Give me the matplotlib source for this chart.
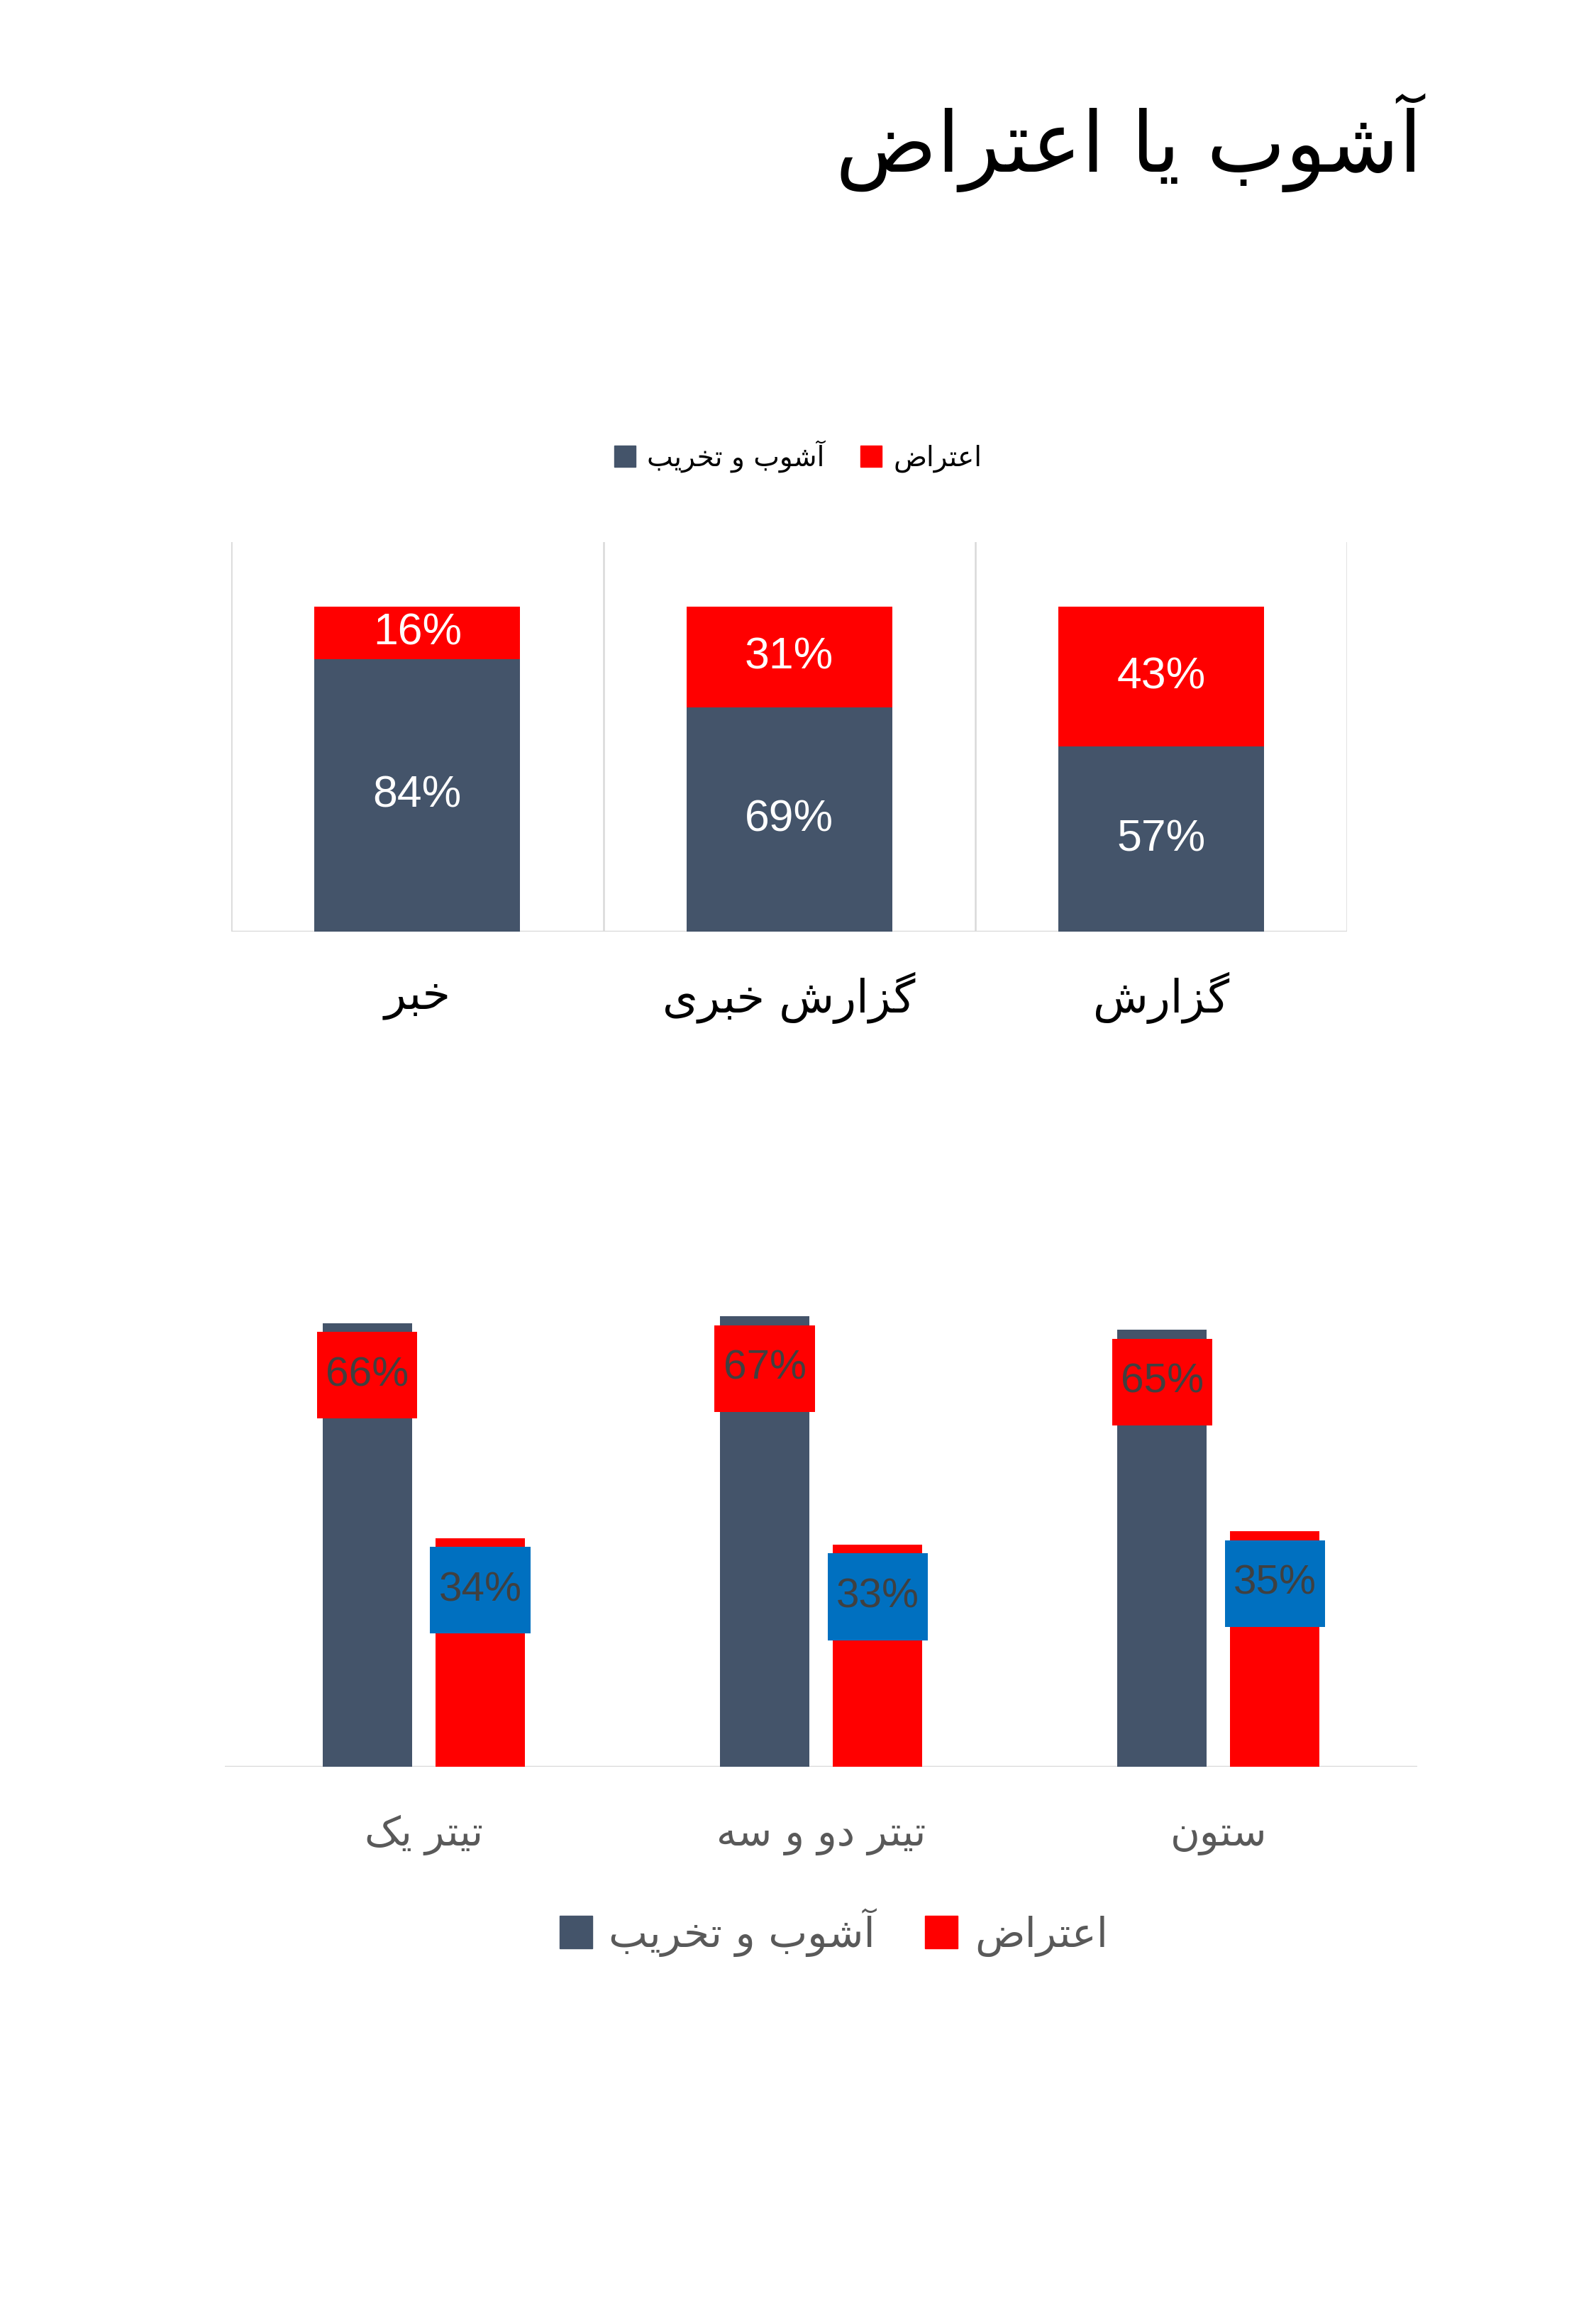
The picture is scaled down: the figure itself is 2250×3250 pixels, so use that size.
import matplotlib
matplotlib.use('Agg')
import matplotlib.pyplot as plt
from matplotlib.patches import Rectangle
from matplotlib.lines import Line2D

# ---- data ----
title = 'آشوب یا اعتراض'
series_names = ['آشوب و تخریب', 'اعتراض']

top_categories = ['خبر', 'گزارش خبری', 'گزارش']
top_riot = [0.84, 0.69, 0.57]
top_protest = [0.16, 0.31, 0.43]

bottom_categories = ['تیتر یک', 'تیتر دو و سه', 'ستون']
bottom_riot = [0.66, 0.67, 0.65]
bottom_protest = [0.34, 0.33, 0.35]

GREY = '#44546A'
RED = '#FF0000'
BLUE = '#0070C0'
LINE = '#D9D9D9'

ARABIC_FONT = ['DejaVu Sans']
NUM_FONT = ['Liberation Sans', 'DejaVu Sans']

# matplotlib has no Arabic shaping, so map letters to presentation forms
FORMS = {
    'ا': ('\uFE8D', '\uFE8E', None, None),
    'آ': ('\uFE81', '\uFE82', None, None),
    'ب': ('\uFE8F', '\uFE90', '\uFE91', '\uFE92'),
    'ت': ('\uFE95', '\uFE96', '\uFE97', '\uFE98'),
    'خ': ('\uFEA5', '\uFEA6', '\uFEA7', '\uFEA8'),
    'د': ('\uFEA9', '\uFEAA', None, None),
    'ر': ('\uFEAD', '\uFEAE', None, None),
    'ز': ('\uFEAF', '\uFEB0', None, None),
    'س': ('\uFEB1', '\uFEB2', '\uFEB3', '\uFEB4'),
    'ش': ('\uFEB5', '\uFEB6', '\uFEB7', '\uFEB8'),
    'ض': ('\uFEBD', '\uFEBE', '\uFEBF', '\uFEC0'),
    'ع': ('\uFEC9', '\uFECA', '\uFECB', '\uFECC'),
    'ن': ('\uFEE5', '\uFEE6', '\uFEE7', '\uFEE8'),
    'ه': ('\uFEE9', '\uFEEA', '\uFEEB', '\uFEEC'),
    'و': ('\uFEED', '\uFEEE', None, None),
    'ک': ('\uFB8E', '\uFB8F', '\uFB90', '\uFB91'),
    'گ': ('\uFB92', '\uFB93', '\uFB94', '\uFB95'),
    'ی': ('\uFBFC', '\uFBFD', '\uFBFE', '\uFBFF'),
}
RIGHT_ONLY = set('اآدرزو')


def fa(s):
    out = []
    for i, c in enumerate(s):
        if c not in FORMS:
            out.append(c)
            continue
        prev = s[i - 1] if i > 0 else None
        nxt = s[i + 1] if i + 1 < len(s) else None
        jp = prev in FORMS and prev not in RIGHT_ONLY
        jn = nxt in FORMS and c not in RIGHT_ONLY
        iso, fin, ini, med = FORMS[c]
        if jp and jn:
            out.append(med)
        elif jp:
            out.append(fin)
        elif jn:
            out.append(ini)
        else:
            out.append(iso)
    return ''.join(reversed(out))


fig = plt.figure(figsize=(22.5, 32.5), dpi=100)
fig.patch.set_facecolor('white')

fig.text(0.891, 0.938, fa(title), ha='right', va='center', fontsize=85,
         family=ARABIC_FONT, color='black')

# ---- top chart: 100% stacked ----
ax1 = fig.add_axes([0.145, 0.596, 0.699, 0.169])
x1 = range(len(top_categories))
ax1.bar(x1, top_riot, width=0.553, color=GREY, zorder=3)
ax1.bar(x1, top_protest, width=0.553, bottom=top_riot, color=RED, zorder=3)
ax1.set_xlim(-0.5, 2.5)
ax1.set_ylim(0, 1.2)
for xv in [-0.5, 0.5, 1.5, 2.5]:
    ax1.axvline(xv, color=LINE, lw=1.8, zorder=1)
ax1.axhline(0, color=LINE, lw=2.5, zorder=2)
for sp in ax1.spines.values():
    sp.set_visible(False)
ax1.set_xticks([])
ax1.set_yticks([])
for i in x1:
    ax1.text(i, top_riot[i] / 2, f'{round(top_riot[i] * 100)}%', ha='center', va='center',
             color='white', fontsize=45, family=NUM_FONT, zorder=4)
    ax1.text(i, top_riot[i] + top_protest[i] / 2, f'{round(top_protest[i] * 100)}%',
             ha='center', va='center', color='white', fontsize=45, family=NUM_FONT, zorder=4)
    ax1.annotate(fa(top_categories[i]), xy=(i, 0), xycoords=('data', 'axes fraction'),
                 xytext=(0, -67), textcoords='offset points', ha='center', va='center',
                 fontsize=46, family=ARABIC_FONT, color='black', annotation_clip=False)

h1 = [Line2D([], [], ls='', marker='s', markersize=22, color=c) for c in (GREY, RED)]
fig.legend(h1, [fa(n) for n in series_names], loc='center', bbox_to_anchor=(0.499, 0.802),
           ncol=2, frameon=False, prop={'family': ARABIC_FONT, 'size': 28},
           handletextpad=0.3, columnspacing=1.2, handlelength=1.0)

# ---- bottom chart: clustered ----
ax2 = fig.add_axes([0.141, 0.234, 0.747, 0.233])
w = 0.225
off = 0.142
box_w = 0.252
box_h = 0.129
box_gap = 0.013
for i in range(len(bottom_categories)):
    for xc, v, col, boxcol in [(i - off, bottom_riot[i], GREY, RED),
                               (i + off, bottom_protest[i], RED, BLUE)]:
        ax2.bar(xc, v, width=w, color=col, zorder=3)
        ax2.add_patch(Rectangle((xc - box_w / 2, v - box_gap - box_h), box_w, box_h,
                                facecolor=boxcol, edgecolor='none', zorder=4))
        ax2.text(xc, v - box_gap - box_h / 2, f'{round(v * 100)}%', ha='center', va='center',
                 color='#404040', fontsize=42, family=NUM_FONT, zorder=5)
    ax2.annotate(fa(bottom_categories[i]), xy=(i, 0), xycoords=('data', 'axes fraction'),
                 xytext=(0, -70), textcoords='offset points', ha='center', va='center',
                 fontsize=41, family=ARABIC_FONT, color='#595959', annotation_clip=False)
ax2.set_xlim(-0.5, 2.5)
ax2.set_ylim(0, 0.8)
ax2.axhline(0, color=LINE, lw=2.5, zorder=2)
for sp in ax2.spines.values():
    sp.set_visible(False)
ax2.set_xticks([])
ax2.set_yticks([])

h2 = [Line2D([], [], ls='', marker='s', markersize=33, color=c) for c in (GREY, RED)]
fig.legend(h2, [fa(n) for n in series_names], loc='center', bbox_to_anchor=(0.521, 0.162),
           ncol=2, frameon=False, prop={'family': ARABIC_FONT, 'size': 42},
           labelcolor='#595959', handletextpad=0.3, columnspacing=1.1, handlelength=1.0)

fig.savefig('out.png', dpi=100, facecolor='white')
